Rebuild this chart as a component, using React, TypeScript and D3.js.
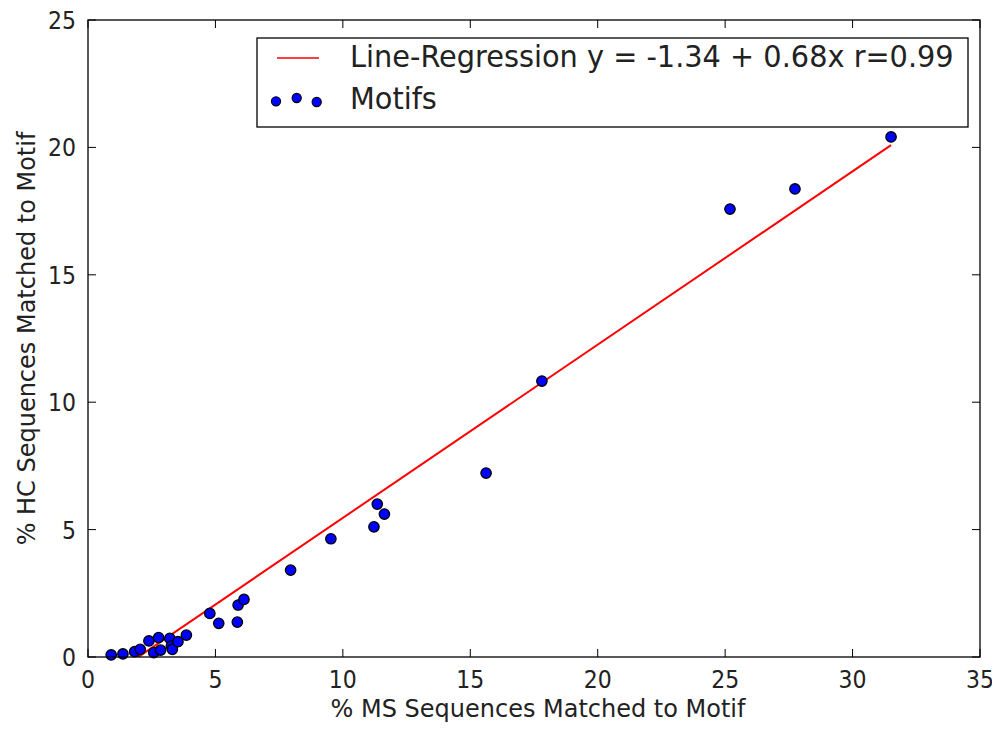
import React, { useEffect, useRef } from 'react'
import * as d3 from 'd3'

// % MS sequences matched (x) and % HC sequences matched (y)
const msValues = [0.91, 1.37, 1.83, 2.05, 2.39, 2.77, 2.58, 2.85, 3.21, 3.27, 3.31, 3.53, 3.86, 4.78, 5.13, 5.89, 6.12, 5.86, 7.95, 9.53, 11.22, 11.35, 11.63, 15.62, 17.81, 25.19, 27.74, 31.51]
const hcValues = [0.08, 0.12, 0.21, 0.3, 0.63, 0.76, 0.17, 0.27, 0.73, 0.43, 0.3, 0.6, 0.86, 1.71, 1.32, 2.04, 2.26, 1.37, 3.41, 4.64, 5.11, 6.0, 5.61, 7.22, 10.83, 17.58, 18.37, 20.41]
const xTicks = [0, 5, 10, 15, 20, 25, 30, 35]
const yTicks = [0, 5, 10, 15, 20, 25]
const intercept = -1.34
const slope = 0.68
const legendLabels = ['Line-Regression y = -1.34 + 0.68x r=0.99', 'Motifs']

const App = () => {
  const ref = useRef(null)
  useEffect(() => {
    const svg = d3.select(ref.current)
    svg.selectAll('*').remove()

    const width = 1000
    const height = 730
    const left = 88
    const right = 980
    const top = 20
    const bottom = 657
    const font = 'DejaVu Sans, sans-serif'

    const x = d3.scaleLinear().domain([0, 35]).range([left, right])
    const y = d3.scaleLinear().domain([0, 25]).range([bottom, top])

    svg.attr('width', width).attr('height', height)
    svg.append('rect').attr('width', width).attr('height', height).attr('fill', '#fff')

    svg.append('clipPath').attr('id', 'plot-clip')
      .append('rect').attr('x', left).attr('y', top).attr('width', right - left).attr('height', bottom - top)

    // regression line over the data range, clipped to the axes
    const xMin = d3.min(msValues)
    const xMax = d3.max(msValues)
    const line = d3.line().x((d) => x(d[0])).y((d) => y(d[1]))
    svg.append('path')
      .attr('d', line([[xMin, intercept + slope * xMin], [xMax, intercept + slope * xMax]]))
      .attr('stroke', '#ff0000')
      .attr('stroke-width', 2)
      .attr('fill', 'none')
      .attr('clip-path', 'url(#plot-clip)')

    // points
    svg.append('g').selectAll('circle')
      .data(msValues.map((v, i) => [v, hcValues[i]]))
      .join('circle')
      .attr('cx', (d) => x(d[0]))
      .attr('cy', (d) => y(d[1]))
      .attr('r', 5.2)
      .attr('fill', '#0000ff')
      .attr('stroke', '#000')
      .attr('stroke-width', 1.3)

    // frame
    svg.append('rect')
      .attr('x', left).attr('y', top).attr('width', right - left).attr('height', bottom - top)
      .attr('fill', 'none').attr('stroke', '#000').attr('stroke-width', 1.3)

    const tickLen = 8
    const tickSize = 22
    const ticks = svg.append('g').attr('stroke', '#000').attr('stroke-width', 1)
    xTicks.forEach((t) => {
      ticks.append('line').attr('x1', x(t)).attr('x2', x(t)).attr('y1', bottom).attr('y2', bottom - tickLen)
      ticks.append('line').attr('x1', x(t)).attr('x2', x(t)).attr('y1', top).attr('y2', top + tickLen)
      svg.append('text')
        .attr('transform', `translate(${x(t)}, 688) scale(1, 1.15)`)
        .attr('text-anchor', 'middle')
        .style('font-family', font).style('font-size', `${tickSize}px`)
        .attr('fill', '#222')
        .text(t)
    })
    yTicks.forEach((t) => {
      ticks.append('line').attr('x1', left).attr('x2', left + tickLen).attr('y1', y(t)).attr('y2', y(t))
      ticks.append('line').attr('x1', right).attr('x2', right - tickLen).attr('y1', y(t)).attr('y2', y(t))
      svg.append('text')
        .attr('transform', `translate(${left - 12}, ${y(t) + 9}) scale(1, 1.15)`)
        .attr('text-anchor', 'end')
        .style('font-family', font).style('font-size', `${tickSize}px`)
        .attr('fill', '#222')
        .text(t)
    })

    // axis labels
    svg.append('text')
      .attr('transform', 'translate(538, 717) scale(1, 1.05)')
      .attr('text-anchor', 'middle')
      .style('font-family', font).style('font-size', '24px')
      .attr('fill', '#222')
      .text('% MS Sequences Matched to Motif')
    svg.append('text')
      .attr('transform', `translate(35, ${(top + bottom) / 2}) rotate(-90) scale(1, 1.05)`)
      .attr('text-anchor', 'middle')
      .style('font-family', font).style('font-size', '24px')
      .attr('fill', '#222')
      .text('% HC Sequences Matched to Motif')

    // legend
    const lg = svg.append('g')
    lg.append('rect')
      .attr('x', 257).attr('y', 38).attr('width', 711).attr('height', 89)
      .attr('fill', '#fff').attr('stroke', '#000').attr('stroke-width', 1.3)
    lg.append('line')
      .attr('x1', 277).attr('x2', 319).attr('y1', 58).attr('y2', 58)
      .attr('stroke', '#ff0000').attr('stroke-width', 1.5)
    ;[[276, 101.3], [296.7, 98], [316.7, 102]].forEach((p) => {
      lg.append('circle').attr('cx', p[0]).attr('cy', p[1]).attr('r', 4.6)
        .attr('fill', '#0000ff').attr('stroke', '#000').attr('stroke-width', 1.1)
    })
    legendLabels.forEach((label, i) => {
      lg.append('text')
        .attr('transform', `translate(350, ${i === 0 ? 67 : 109}) scale(1, 1.05)`)
        .style('font-family', font).style('font-size', '28.8px')
        .attr('fill', '#222')
        .text(label)
    })
  }, [])

  return (
    <div style={{ margin: -8 }}>
      <svg ref={ref} width="1000" height="730" style={{ display: 'block' }} />
    </div>
  )
}

export default App
